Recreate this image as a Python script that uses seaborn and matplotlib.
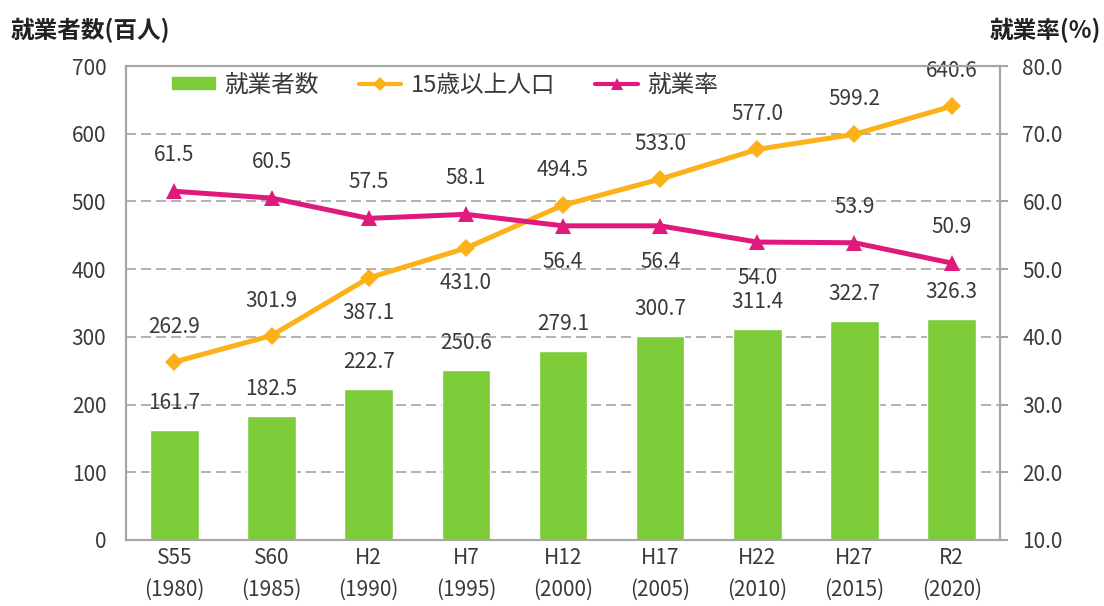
import numpy as np
import pandas as pd
import matplotlib
matplotlib.use("Agg")
import matplotlib.pyplot as plt
from matplotlib.lines import Line2D
from matplotlib.patches import Patch
import seaborn as sns

# data
categories = ["S55\n(1980)", "S60\n(1985)", "H2\n(1990)", "H7\n(1995)", "H12\n(2000)",
              "H17\n(2005)", "H22\n(2010)", "H27\n(2015)", "R2\n(2020)"]
workers = [161.7, 182.5, 222.7, 250.6, 279.1, 300.7, 311.4, 322.7, 326.3]
pop15 = [262.9, 301.9, 387.1, 431.0, 494.5, 533.0, 577.0, 599.2, 640.6]
emp_rate = [61.5, 60.5, 57.5, 58.1, 56.4, 56.4, 54.0, 53.9, 50.9]

# label side: 1 = above, -1 = below
pop_side = [1, 1, -1, -1, 1, 1, 1, 1, 1]
rate_side = [1, 1, 1, 1, -1, -1, -1, 1, 1]

GREEN = "#7ccc3a"
ORANGE = "#fbb117"
PINK = "#e0197d"
TXT = "#3a3a3a"
GRAY = "#a6a6a6"

sns.set_theme(style="white")
plt.rcParams["font.family"] = ["Noto Sans CJK JP", "DejaVu Sans"]

df = pd.DataFrame({"cat": categories, "workers": workers, "pop15": pop15,
                   "rate": emp_rate, "pos": np.arange(len(categories))})

fig = plt.figure(figsize=(11.04, 6.06), dpi=100)
ax = fig.add_axes([0.114, 0.109, 0.792, 0.782])

sns.barplot(data=df, x="cat", y="workers", color=GREEN, width=0.5,
            saturation=1, ax=ax, zorder=2)
sns.lineplot(data=df, x="pos", y="pop15", color=ORANGE, lw=3.6, marker="D",
             markersize=9, markeredgewidth=0, ax=ax, zorder=3)

ax.set_ylim(0, 700)
ax.set_xlim(-0.5, len(categories) - 0.5)
ax.set_yticks(range(0, 701, 100))
ax.set_xticks(range(len(categories)))
ax.set_xticklabels(categories, linespacing=1.6)
ax.set_xlabel("")
ax.set_ylabel("")
for y in range(100, 700, 100):
    ax.axhline(y, color=GRAY, ls=(0, (6, 3)), lw=1.2, zorder=1)

ax2 = ax.twinx()
sns.lineplot(data=df, x="pos", y="rate", color=PINK, lw=3.6, marker="^",
             markersize=11, markeredgewidth=0, ax=ax2, zorder=4)
ax2.set_ylim(10, 80)
ax2.set_yticks(np.arange(10, 81, 10))
ax2.set_yticklabels([f"{v:.1f}" for v in np.arange(10, 81, 10)])
ax2.set_ylabel("")

for a in (ax, ax2):
    for s in a.spines.values():
        s.set_color(GRAY)
        s.set_linewidth(1.5)
    a.tick_params(labelsize=15, colors=TXT)
ax.tick_params(axis="y", length=0, pad=14)
ax.tick_params(axis="x", length=0, pad=5)
ax2.tick_params(axis="y", length=6, width=1.5, color=GRAY, direction="out", pad=10)

# data labels
fs = 15
for i, v in enumerate(workers):
    ax.annotate(f"{v:.1f}", (i, v), xytext=(0, 27), textcoords="offset pixels",
                ha="center", va="center", fontsize=fs, color=TXT, zorder=5)
for i, v in enumerate(pop15):
    ax.annotate(f"{v:.1f}", (i, v), xytext=(0, 35 * pop_side[i]), textcoords="offset pixels",
                ha="center", va="center", fontsize=fs, color=TXT, zorder=5)
for i, v in enumerate(emp_rate):
    ax2.annotate(f"{v:.1f}", (i, v), xytext=(0, 36 * rate_side[i]), textcoords="offset pixels",
                 ha="center", va="center", fontsize=fs, color=TXT, zorder=5)

handles = [Patch(color=GREEN),
           Line2D([], [], color=ORANGE, lw=3, marker="D", markersize=7, markeredgewidth=0),
           Line2D([], [], color=PINK, lw=3, marker="^", markersize=9, markeredgewidth=0)]
ax2.legend(handles, ["就業者数", "15歳以上人口", "就業率"], ncol=3, frameon=False,
           loc="center left", bbox_to_anchor=(0.053, 0.96), fontsize=17,
           handlelength=1.8, handleheight=0.45, handletextpad=0.4, columnspacing=1.7,
           borderaxespad=0, borderpad=0, labelcolor=TXT)

fig.text(0.01, 0.95, "就業者数(百人)", fontsize=17, fontweight="bold", color="#222222",
         va="center", ha="left")
fig.text(0.997, 0.95, "就業率(%)", fontsize=17, fontweight="bold", color="#222222",
         va="center", ha="right")

fig.savefig("out.png", dpi=100)
